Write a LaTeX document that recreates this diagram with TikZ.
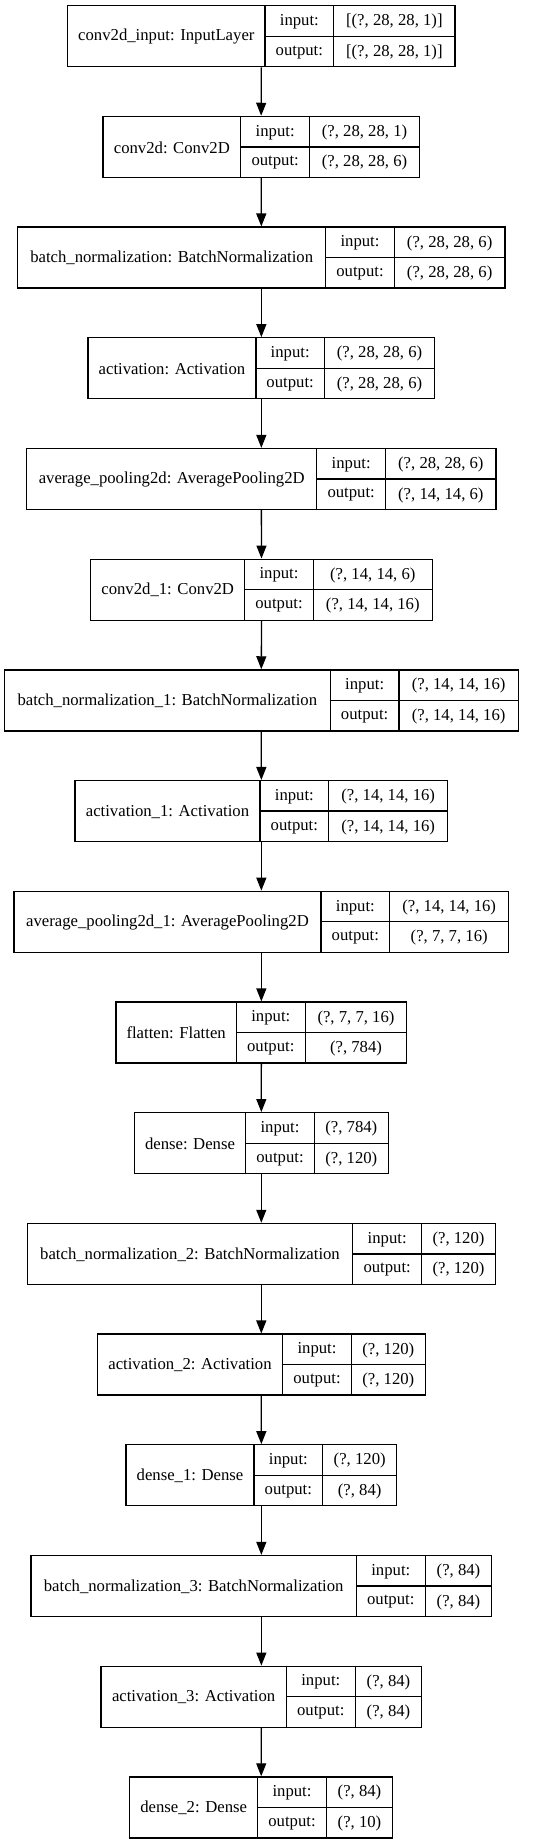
\documentclass[tikz,border=0pt]{standalone}
\usepackage{fontspec}
\setmainfont{Liberation Serif}
\usepackage{tikz}
\usetikzlibrary{arrows.meta,fit}

\tikzset{
  layerbox/.style={draw, line width=1.3bp, inner sep=0pt},
  cell/.style={font=\fontsize{16.7bp}{20bp}\selectfont, inner sep=0pt},
  flow/.style={-{Triangle[length=13bp,width=10bp]}, line width=1.3bp}
}

% #1 name, #2 top, #3 left, #4 first divider, #5 second divider, #6 right, #7 label, #8 input, #9 output
\newcommand{\layer}[9]{%
  \node[layerbox, fit={(#3,#2) (#6,#2+61)}] (#1) {};
  \draw[line width=1.3bp] (#4,#2) -- (#4,#2+61);
  \draw[line width=1.3bp] (#5,#2) -- (#5,#2+61);
  \draw[line width=1.3bp] (#4,#2+30.5) -- (#6,#2+30.5);
  \node[cell] (#1-name) at ({(#3+#4)/2},{#2+31}) {#7};
  \node[cell] (#1-inkey) at ({(#4+#5)/2},{#2+16}) {input:};
  \node[cell] (#1-outkey) at ({(#4+#5)/2},{#2+46.5}) {output:};
  \node[cell] (#1-in) at ({(#5+#6)/2},{#2+16}) {#8};
  \node[cell] (#1-out) at ({(#5+#6)/2},{#2+46.5}) {#9};
}

\begin{document}
\begin{tikzpicture}[x=1bp,y=-1bp]
\useasboundingbox[fill=white] (0,0) rectangle (557,1844);
\layer{input}{5.7}{67.7}{265}{333.7}{455}{conv2d\_input: InputLayer}{[(?, 28, 28, 1)]}{[(?, 28, 28, 1)]}
\layer{conv}{116.4}{103}{240.7}{309.7}{419.3}{conv2d: Conv2D}{(?, 28, 28, 1)}{(?, 28, 28, 6)}
\layer{bn}{227.1}{17.7}{325.7}{394.3}{505}{batch\_normalization: BatchNormalization}{(?, 28, 28, 6)}{(?, 28, 28, 6)}
\layer{act}{337.8}{88}{256}{324.3}{434.7}{activation: Activation}{(?, 28, 28, 6)}{(?, 28, 28, 6)}
\layer{pool}{448.5}{26.7}{316.7}{385.7}{496}{average\_pooling2d: AveragePooling2D}{(?, 28, 28, 6)}{(?, 14, 14, 6)}
\layer{conv1}{559.2}{90.7}{244.7}{313.3}{432.3}{conv2d\_1: Conv2D}{(?, 14, 14, 6)}{(?, 14, 14, 16)}
\layer{bn1}{669.9}{4.3}{330.3}{399}{518.3}{batch\_normalization\_1: BatchNormalization}{(?, 14, 14, 16)}{(?, 14, 14, 16)}
\layer{act1}{780.6}{75}{260}{328.7}{447.7}{activation\_1: Activation}{(?, 14, 14, 16)}{(?, 14, 14, 16)}
\layer{pool1}{891.3}{14}{321}{389.7}{508.7}{average\_pooling2d\_1: AveragePooling2D}{(?, 14, 14, 16)}{(?, 7, 7, 16)}
\layer{flat}{1002}{116}{236.3}{305.3}{406.7}{flatten: Flatten}{(?, 7, 7, 16)}{(?, 784)}
\layer{dense}{1112.7}{134.3}{245.7}{314.3}{388.3}{dense: Dense}{(?, 784)}{(?, 120)}
\layer{bn2}{1223.4}{27.3}{352.7}{421.7}{495.3}{batch\_normalization\_2: BatchNormalization}{(?, 120)}{(?, 120)}
\layer{act2}{1334.1}{97.3}{282.7}{351.3}{425.3}{activation\_2: Activation}{(?, 120)}{(?, 120)}
\layer{dense1}{1444.8}{126}{254}{322.7}{396.7}{dense\_1: Dense}{(?, 120)}{(?, 84)}
\layer{bn3}{1555.5}{31}{356.3}{425.3}{491.7}{batch\_normalization\_3: BatchNormalization}{(?, 84)}{(?, 84)}
\layer{act3}{1666.2}{101}{286.3}{355.3}{421.7}{activation\_3: Activation}{(?, 84)}{(?, 84)}
\layer{dense2}{1776.9}{129.7}{257.7}{326.3}{392.7}{dense\_2: Dense}{(?, 84)}{(?, 10)}
% connections
\foreach \a/\b in {input/conv,conv/bn,bn/act,act/pool,pool/conv1,conv1/bn1,bn1/act1,act1/pool1,
  pool1/flat,flat/dense,dense/bn2,bn2/act2,act2/dense1,dense1/bn3,bn3/act3,act3/dense2}
  \draw[flow] (\a.south) -- (\b.north);
\end{tikzpicture}
\end{document}
